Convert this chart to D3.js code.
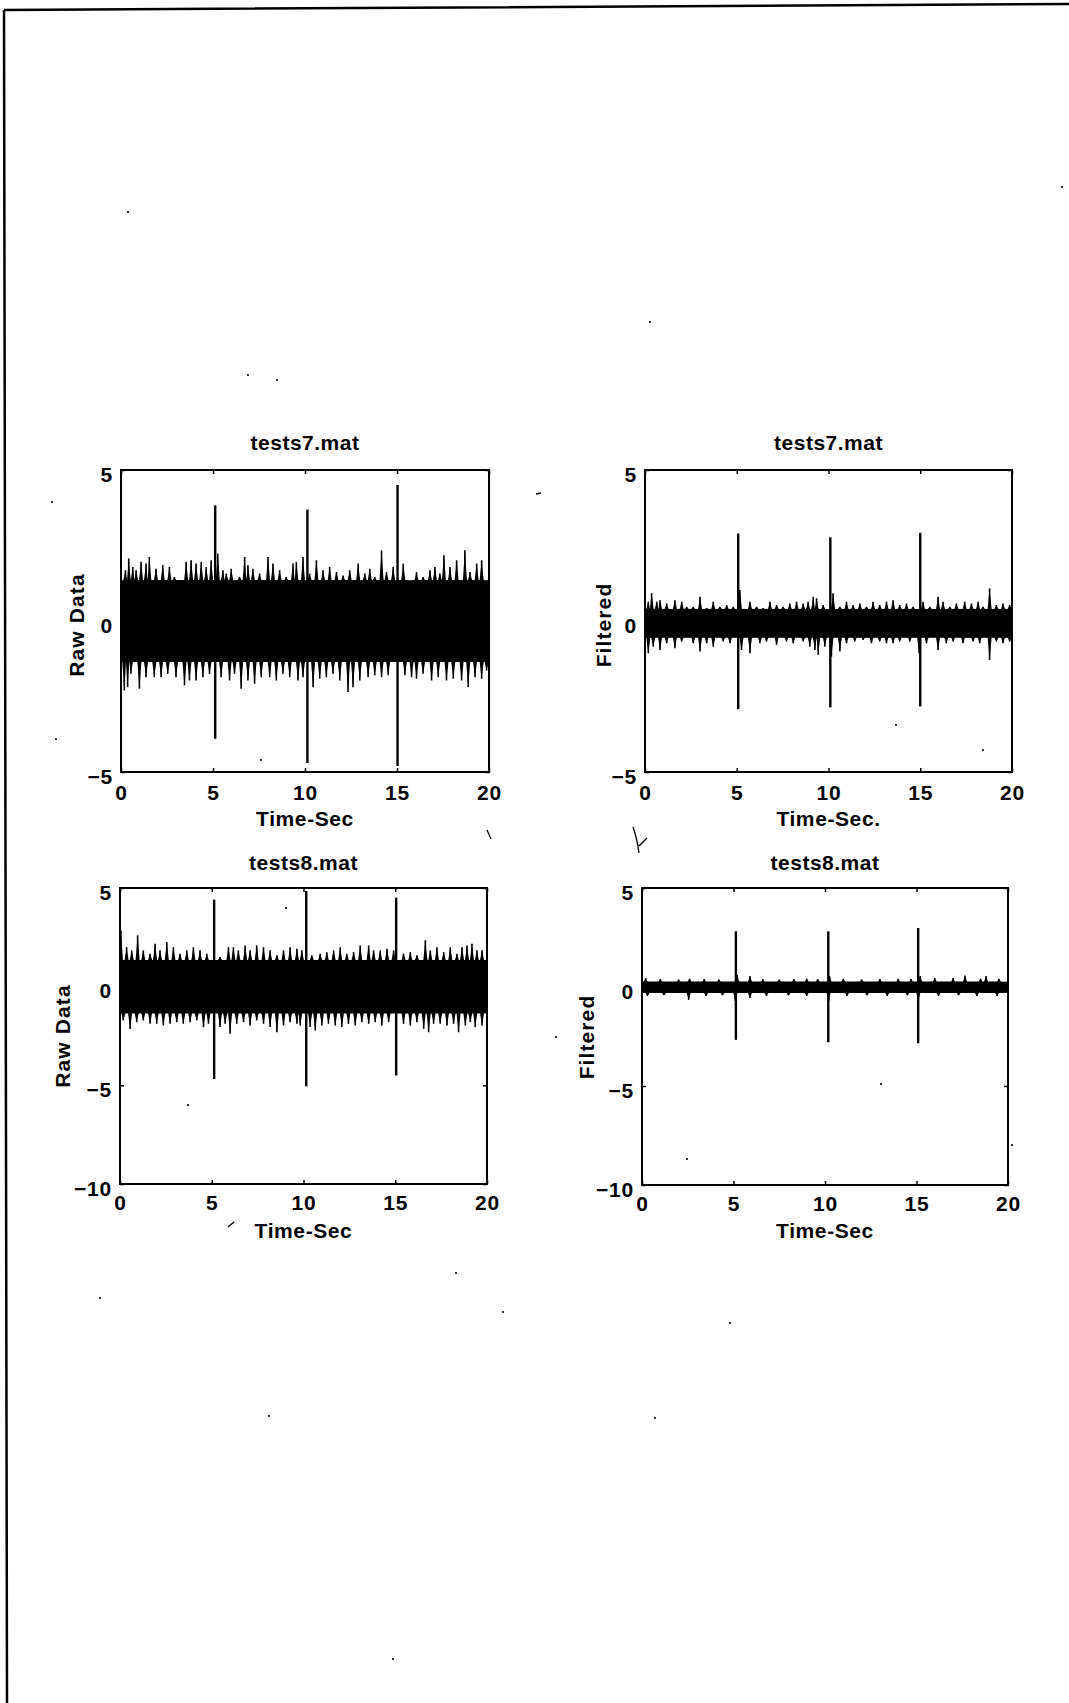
<!DOCTYPE html>
<html>
<head>
<meta charset="utf-8">
<script src="https://cdn.jsdelivr.net/npm/d3@7"></script>
<style>
  body { margin: 0; background: #fff; }
  svg text { font-family: "Liberation Sans", Arial, sans-serif; font-weight: bold; fill: #000; }
</style>
</head>
<body>
<script>
// ---- data ----
const timeTicks = [0, 5, 10, 15, 20];
const yTicksTop = [-5, 0, 5];
const yTicksBottom = [-10, -5, 0, 5];
const titles = ["tests7.mat", "tests7.mat", "tests8.mat", "tests8.mat"];
const yLabels = ["Raw Data", "Filtered", "Raw Data", "Filtered"];
const xLabels = ["Time-Sec", "Time-Sec.", "Time-Sec", "Time-Sec"];

// solid core of the noise band [low, high]
const raw7Band = [-1.35, 1.35];
const filt7Band = [-0.55, 0.4];
const raw8Band = [-1.35, 1.35];
const filt8Band = [-0.3, 0.27];

// envelope peaks [time, value]
const raw7Up = [[0.24,1.68],[0.42,2.07],[0.64,1.79],[0.82,1.68],[1.09,1.96],[1.36,1.9],[1.54,2.12],[1.9,1.73],[2.27,1.85],[2.63,1.79],[2.9,1.46],[3.18,1.35],[3.54,1.96],[3.81,2.01],[4.08,1.9],[4.36,1.96],[4.63,1.79],[4.9,2.01],[5.26,2.23],[5.54,1.68],[5.72,1.57],[5.99,1.73],[6.26,1.24],[6.44,1.46],[6.72,2.12],[6.9,1.85],[7.17,1.73],[7.53,1.57],[7.99,2.12],[8.26,1.9],[8.62,1.68],[8.98,1.46],[9.35,1.9],[9.53,1.96],[9.89,2.12],[10.25,1.57],[10.62,2.01],[10.98,1.68],[11.34,1.79],[11.71,1.62],[12.07,1.51],[12.43,1.68],[12.89,1.9],[13.25,1.57],[13.52,1.73],[13.79,1.46],[14.16,2.34],[14.43,1.62],[14.79,1.79],[15.34,1.9],[15.7,1.24],[16.06,1.62],[16.42,1.46],[16.79,1.68],[17.06,1.79],[17.33,1.57],[17.55,2.18],[17.88,1.79],[18.24,2.01],[18.69,2.34],[18.97,1.62],[19.33,1.9],[19.6,2.01],[19.87,1.24]];
const raw7Lo = [[0.18,-2.3],[0.36,-2.19],[0.54,-1.75],[1.0,-2.24],[1.36,-1.86],[1.81,-1.86],[2.18,-1.86],[2.54,-1.75],[2.99,-1.86],[3.45,-2.13],[3.72,-1.97],[4.08,-1.97],[4.45,-1.86],[4.81,-1.75],[5.44,-1.86],[5.9,-1.97],[6.17,-1.75],[6.53,-2.24],[6.9,-1.97],[7.26,-2.08],[7.62,-1.86],[8.08,-1.86],[8.44,-1.97],[8.8,-1.75],[9.17,-1.86],[9.62,-1.97],[9.89,-1.86],[10.44,-2.19],[10.8,-1.91],[11.16,-1.86],[11.52,-1.75],[11.89,-1.97],[12.34,-2.35],[12.61,-2.19],[12.98,-1.97],[13.43,-1.86],[13.79,-1.8],[14.16,-1.86],[14.52,-1.8],[15.43,-1.8],[15.79,-1.86],[16.06,-1.91],[16.42,-1.75],[16.88,-1.97],[17.24,-1.86],[17.69,-1.97],[18.06,-1.91],[18.51,-1.97],[18.87,-2.19],[19.24,-1.86],[19.6,-1.91],[19.87,-1.64]];
const filt7Up = [[0.18,0.64],[0.36,0.92],[0.64,0.64],[0.82,0.69],[1.18,0.58],[1.63,0.69],[2.0,0.64],[2.27,0.47],[2.63,0.47],[3.0,0.8],[3.36,0.42],[3.72,0.64],[4.08,0.47],[4.45,0.53],[4.81,0.47],[5.17,1.03],[5.72,0.64],[6.08,0.47],[6.44,0.42],[6.81,0.64],[7.17,0.53],[7.53,0.47],[7.89,0.58],[8.26,0.64],[8.62,0.58],[8.89,0.64],[9.17,0.8],[9.35,0.75],[9.71,0.53],[10.25,0.92],[10.62,0.47],[10.98,0.64],[11.34,0.53],[11.71,0.58],[12.07,0.47],[12.43,0.64],[12.79,0.53],[13.16,0.64],[13.52,0.69],[13.88,0.53],[14.25,0.58],[14.61,0.47],[15.15,0.64],[15.52,0.47],[15.97,0.8],[16.24,0.64],[16.61,0.47],[16.97,0.58],[17.42,0.64],[17.79,0.58],[18.15,0.64],[18.42,0.47],[18.78,1.08],[19.15,0.53],[19.51,0.58],[19.87,0.53]];
const filt7Lo = [[0.18,-1.07],[0.45,-0.85],[0.82,-0.96],[1.18,-0.74],[1.63,-0.9],[2.0,-0.68],[2.63,-0.74],[3.0,-1.01],[3.36,-0.74],[3.72,-0.85],[4.26,-0.68],[4.63,-0.74],[5.26,-0.96],[5.72,-1.07],[6.26,-0.74],[6.62,-0.68],[7.17,-0.79],[7.71,-0.68],[8.08,-0.74],[8.62,-0.68],[8.98,-0.85],[9.26,-0.96],[9.44,-1.12],[9.8,-0.85],[10.16,-1.18],[10.62,-1.01],[10.98,-0.74],[11.43,-0.68],[11.89,-0.63],[12.34,-0.74],[12.79,-0.68],[13.16,-0.74],[13.52,-0.74],[13.88,-0.68],[14.43,-0.68],[14.94,-1.07],[15.34,-0.74],[15.97,-0.96],[16.42,-0.74],[16.79,-0.68],[17.33,-0.74],[17.88,-0.68],[18.24,-0.74],[18.78,-1.29],[19.15,-0.68],[19.51,-0.74],[19.87,-0.68]];
const raw8Up = [[0.05,2.85],[0.36,2.0],[0.64,1.84],[0.96,2.6],[1.27,1.84],[1.64,1.67],[1.91,2.18],[2.18,1.84],[2.55,2.26],[2.91,2.0],[3.27,1.67],[3.64,1.84],[4.0,2.0],[4.36,1.84],[4.73,1.67],[5.45,1.5],[5.91,2.0],[6.18,2.0],[6.45,1.84],[6.82,2.09],[7.09,1.84],[7.45,2.09],[7.82,2.0],[8.18,1.84],[8.55,1.59],[8.91,1.84],[9.27,2.0],[9.64,1.92],[9.91,1.84],[10.45,1.59],[10.91,1.67],[11.27,1.75],[11.64,1.84],[12.0,2.0],[12.36,1.67],[12.73,1.75],[13.09,2.09],[13.55,2.09],[13.82,1.84],[14.18,1.84],[14.55,1.92],[14.91,1.84],[15.45,1.67],[15.82,1.75],[16.18,1.59],[16.64,2.35],[16.91,1.84],[17.27,2.0],[17.64,1.75],[18.0,2.0],[18.36,1.67],[18.64,2.0],[18.91,2.09],[19.18,2.18],[19.45,1.84],[19.73,1.84]];
const raw8Lo = [[0.18,-1.71],[0.55,-2.14],[0.91,-1.8],[1.27,-1.71],[1.64,-1.88],[2.0,-1.88],[2.36,-1.97],[2.73,-1.88],[3.09,-1.8],[3.45,-1.88],[3.82,-1.8],[4.18,-1.71],[4.55,-2.05],[4.82,-1.88],[5.45,-2.05],[5.73,-1.88],[6.0,-2.39],[6.36,-1.88],[6.73,-1.8],[7.09,-1.97],[7.45,-1.71],[7.82,-1.88],[8.18,-2.05],[8.55,-2.31],[8.91,-1.97],[9.27,-1.8],[9.64,-1.88],[9.82,-1.97],[10.36,-2.05],[10.64,-2.22],[11.0,-1.97],[11.36,-1.88],[11.73,-1.97],[12.09,-2.05],[12.45,-1.88],[12.82,-1.97],[13.18,-1.8],[13.55,-1.88],[13.91,-1.8],[14.27,-1.97],[14.64,-1.8],[15.45,-1.88],[15.82,-1.97],[16.18,-1.8],[16.55,-2.14],[16.82,-2.31],[17.09,-1.88],[17.45,-1.88],[17.82,-1.97],[18.18,-1.88],[18.45,-2.31],[18.82,-1.97],[19.09,-1.8],[19.36,-2.05],[19.73,-1.97]];
const filt8Up = [[0.2,0.45],[1.0,0.4],[2.0,0.38],[2.6,0.42],[3.4,0.4],[4.2,0.38],[5.2,0.6],[5.9,0.55],[6.6,0.4],[7.5,0.38],[8.3,0.4],[9.0,0.42],[9.6,0.4],[10.25,0.55],[11.0,0.42],[12.0,0.38],[13.0,0.4],[14.0,0.42],[14.7,0.4],[15.2,0.55],[16.0,0.45],[17.0,0.45],[17.65,0.58],[18.5,0.42],[18.8,0.55],[19.5,0.42]];
const filt8Lo = [[0.3,-0.45],[1.2,-0.42],[2.55,-0.65],[3.5,-0.45],[4.4,-0.42],[5.1,-0.7],[5.9,-0.55],[6.8,-0.45],[8.0,-0.42],[9.0,-0.45],[10.2,-0.7],[11.2,-0.45],[12.3,-0.42],[13.4,-0.45],[14.5,-0.42],[15.1,-0.7],[16.2,-0.45],[17.3,-0.42],[18.3,-0.45],[19.4,-0.45]];

// large events [time, max, min]
const raw7Spikes = [[5.12,3.83,-3.9],[10.13,3.69,-4.7],[15.03,4.5,-4.8]];
const filt7Spikes = [[5.08,2.9,-2.92],[10.1,2.77,-2.86],[15.0,2.92,-2.83]];
const raw8Spikes = [[5.13,4.41,-4.68],[10.15,4.85,-5.05],[15.05,4.51,-4.5]];
const filt8Spikes = [[5.13,2.81,-2.67],[10.18,2.81,-2.79],[15.09,2.98,-2.84]];

// specks and pen marks on the scanned page [x, y] in page pixels
const specks = [[128,212],[248,375],[277,380],[650,322],[1062,187],[52,502],[56,739],[261,760],[286,908],[188,1105],[881,1084],[687,1159],[556,1037],[100,1298],[456,1273],[503,1312],[730,1323],[269,1416],[655,1418],[393,1659],[896,725],[983,750],[1012,1145]];

// ---- drawing ----
const svg = d3.select("body").append("svg").attr("width", 1069).attr("height", 1703);

// scanned page frame
svg.append("path")
  .attr("d", "M4,10 L1069,4 M4,10 L7,1703")
  .attr("fill", "none").attr("stroke", "#000").attr("stroke-width", 2.5);

svg.append("g").selectAll("circle").data(specks).join("circle")
  .attr("cx", d => d[0]).attr("cy", d => d[1]).attr("r", 1.1).attr("fill", "#000");

// hand-drawn ticks near the lower-left of the filtered panel and under the axes
svg.append("path")
  .attr("d", "M633,827 Q637,838 639,853 M639,846 L647,838 M228,1227 L234,1222 M487,830 L491,839 M536,494 L541,493")
  .attr("fill", "none").attr("stroke", "#000").attr("stroke-width", 1.3);

const panels = [
  { i:0, box:[121,489,470,772], dom:[-5,5], yt:yTicksTop, band:raw7Band, up:raw7Up, lo:raw7Lo, sp:raw7Spikes,
    titleY:450, tickPad:13, xlabY:826, ylabX:84, ylabY:625 },
  { i:1, box:[645,1012,470,772], dom:[-5,5], yt:yTicksTop, band:filt7Band, up:filt7Up, lo:filt7Lo, sp:filt7Spikes,
    titleY:450, tickPad:13, xlabY:826, ylabX:611, ylabY:625 },
  { i:2, box:[120,487,888,1184], dom:[-10,5], yt:yTicksBottom, band:raw8Band, up:raw8Up, lo:raw8Lo, sp:raw8Spikes,
    titleY:870, tickPad:11, xlabY:1238, ylabX:70, ylabY:1036 },
  { i:3, box:[642,1008,888,1185], dom:[-10,5], yt:yTicksBottom, band:filt8Band, up:filt8Up, lo:filt8Lo, sp:filt8Spikes,
    titleY:870, tickPad:11, xlabY:1238, ylabX:594, ylabY:1037 }
];

// narrow sawtooth skirt around each peak, resting on the band edge
function teeth(peaks, edge) {
  const pts = [];
  peaks.forEach((d, k) => {
    const gapL = k ? d[0] - peaks[k - 1][0] : 0.3;
    const gapR = k < peaks.length - 1 ? peaks[k + 1][0] - d[0] : 0.3;
    pts.push([d[0] - Math.min(0.11, gapL / 2), edge], d, [d[0] + Math.min(0.11, gapR / 2), edge]);
  });
  return pts;
}

panels.forEach(p => {
  const [l, r, t, b] = p.box;
  const x = d3.scaleLinear().domain([0, 20]).range([l, r]);
  const y = d3.scaleLinear().domain(p.dom).range([b, t]);
  const g = svg.append("g");

  g.append("clipPath").attr("id", "clip" + p.i)
    .append("rect").attr("x", l).attr("y", t).attr("width", r - l).attr("height", b - t);
  const plot = g.append("g").attr("clip-path", `url(#clip${p.i})`);

  // dense core of the trace
  plot.append("rect")
    .attr("x", x(0)).attr("width", x(20) - x(0))
    .attr("y", y(p.band[1])).attr("height", y(p.band[0]) - y(p.band[1]))
    .attr("fill", "#000");

  const area = d3.area().x(d => x(d[0])).y0(y(0)).y1(d => y(d[1]));
  plot.append("path").attr("d", area(teeth(p.up, p.band[1]))).attr("fill", "#000");
  plot.append("path").attr("d", area(teeth(p.lo, p.band[0]))).attr("fill", "#000");

  // ragged peaks above / below the core
  plot.selectAll("line.pk").data(p.up.concat(p.lo)).join("line")
    .attr("x1", d => x(d[0])).attr("x2", d => x(d[0]))
    .attr("y1", y(0)).attr("y2", d => y(d[1]))
    .attr("stroke", "#000").attr("stroke-width", 1.6);

  // the three big events
  plot.selectAll("line.sp").data(p.sp).join("line")
    .attr("x1", d => x(d[0])).attr("x2", d => x(d[0]))
    .attr("y1", d => y(d[2])).attr("y2", d => y(d[1]))
    .attr("stroke", "#000").attr("stroke-width", 2.4);

  // axes box
  g.append("rect").attr("x", l).attr("y", t).attr("width", r - l).attr("height", b - t)
    .attr("fill", "none").attr("stroke", "#000").attr("stroke-width", 2);

  const styleAxis = sel => {
    sel.select(".domain").remove();
    sel.selectAll(".tick line").attr("stroke", "#000").attr("stroke-width", 1.5);
    sel.selectAll("text").style("font-size", "21px").style("letter-spacing", "0.8px");
  };

  g.append("g").attr("transform", `translate(0,${b})`)
    .call(d3.axisBottom(x).tickValues(timeTicks).tickSize(-4).tickPadding(p.tickPad).tickFormat(d3.format("d")))
    .call(styleAxis);
  g.append("g").attr("transform", `translate(0,${t})`)
    .call(d3.axisTop(x).tickValues(timeTicks).tickSize(-4).tickFormat(""))
    .call(styleAxis);
  g.append("g").attr("transform", `translate(${l},0)`)
    .call(d3.axisLeft(y).tickValues(p.yt).tickSize(-4).tickPadding(8).tickFormat(d3.format("d")))
    .call(styleAxis)
    .call(s => s.selectAll("text").attr("dy", "0.53em"));
  g.append("g").attr("transform", `translate(${r},0)`)
    .call(d3.axisRight(y).tickValues(p.yt).tickSize(-4).tickFormat(""))
    .call(styleAxis);

  // title and labels
  g.append("text").attr("x", (l + r) / 2).attr("y", p.titleY)
    .attr("text-anchor", "middle").style("font-size", "21px").style("letter-spacing", "0.5px")
    .text(titles[p.i]);
  g.append("text").attr("x", (l + r) / 2).attr("y", p.xlabY)
    .attr("text-anchor", "middle").style("font-size", "21px").style("letter-spacing", "0.6px")
    .text(xLabels[p.i]);
  g.append("text").attr("transform", `translate(${p.ylabX},${p.ylabY}) rotate(-90)`)
    .attr("text-anchor", "middle").style("font-size", "21px").style("letter-spacing", "1.1px")
    .text(yLabels[p.i]);
});
</script>
</body>
</html>
